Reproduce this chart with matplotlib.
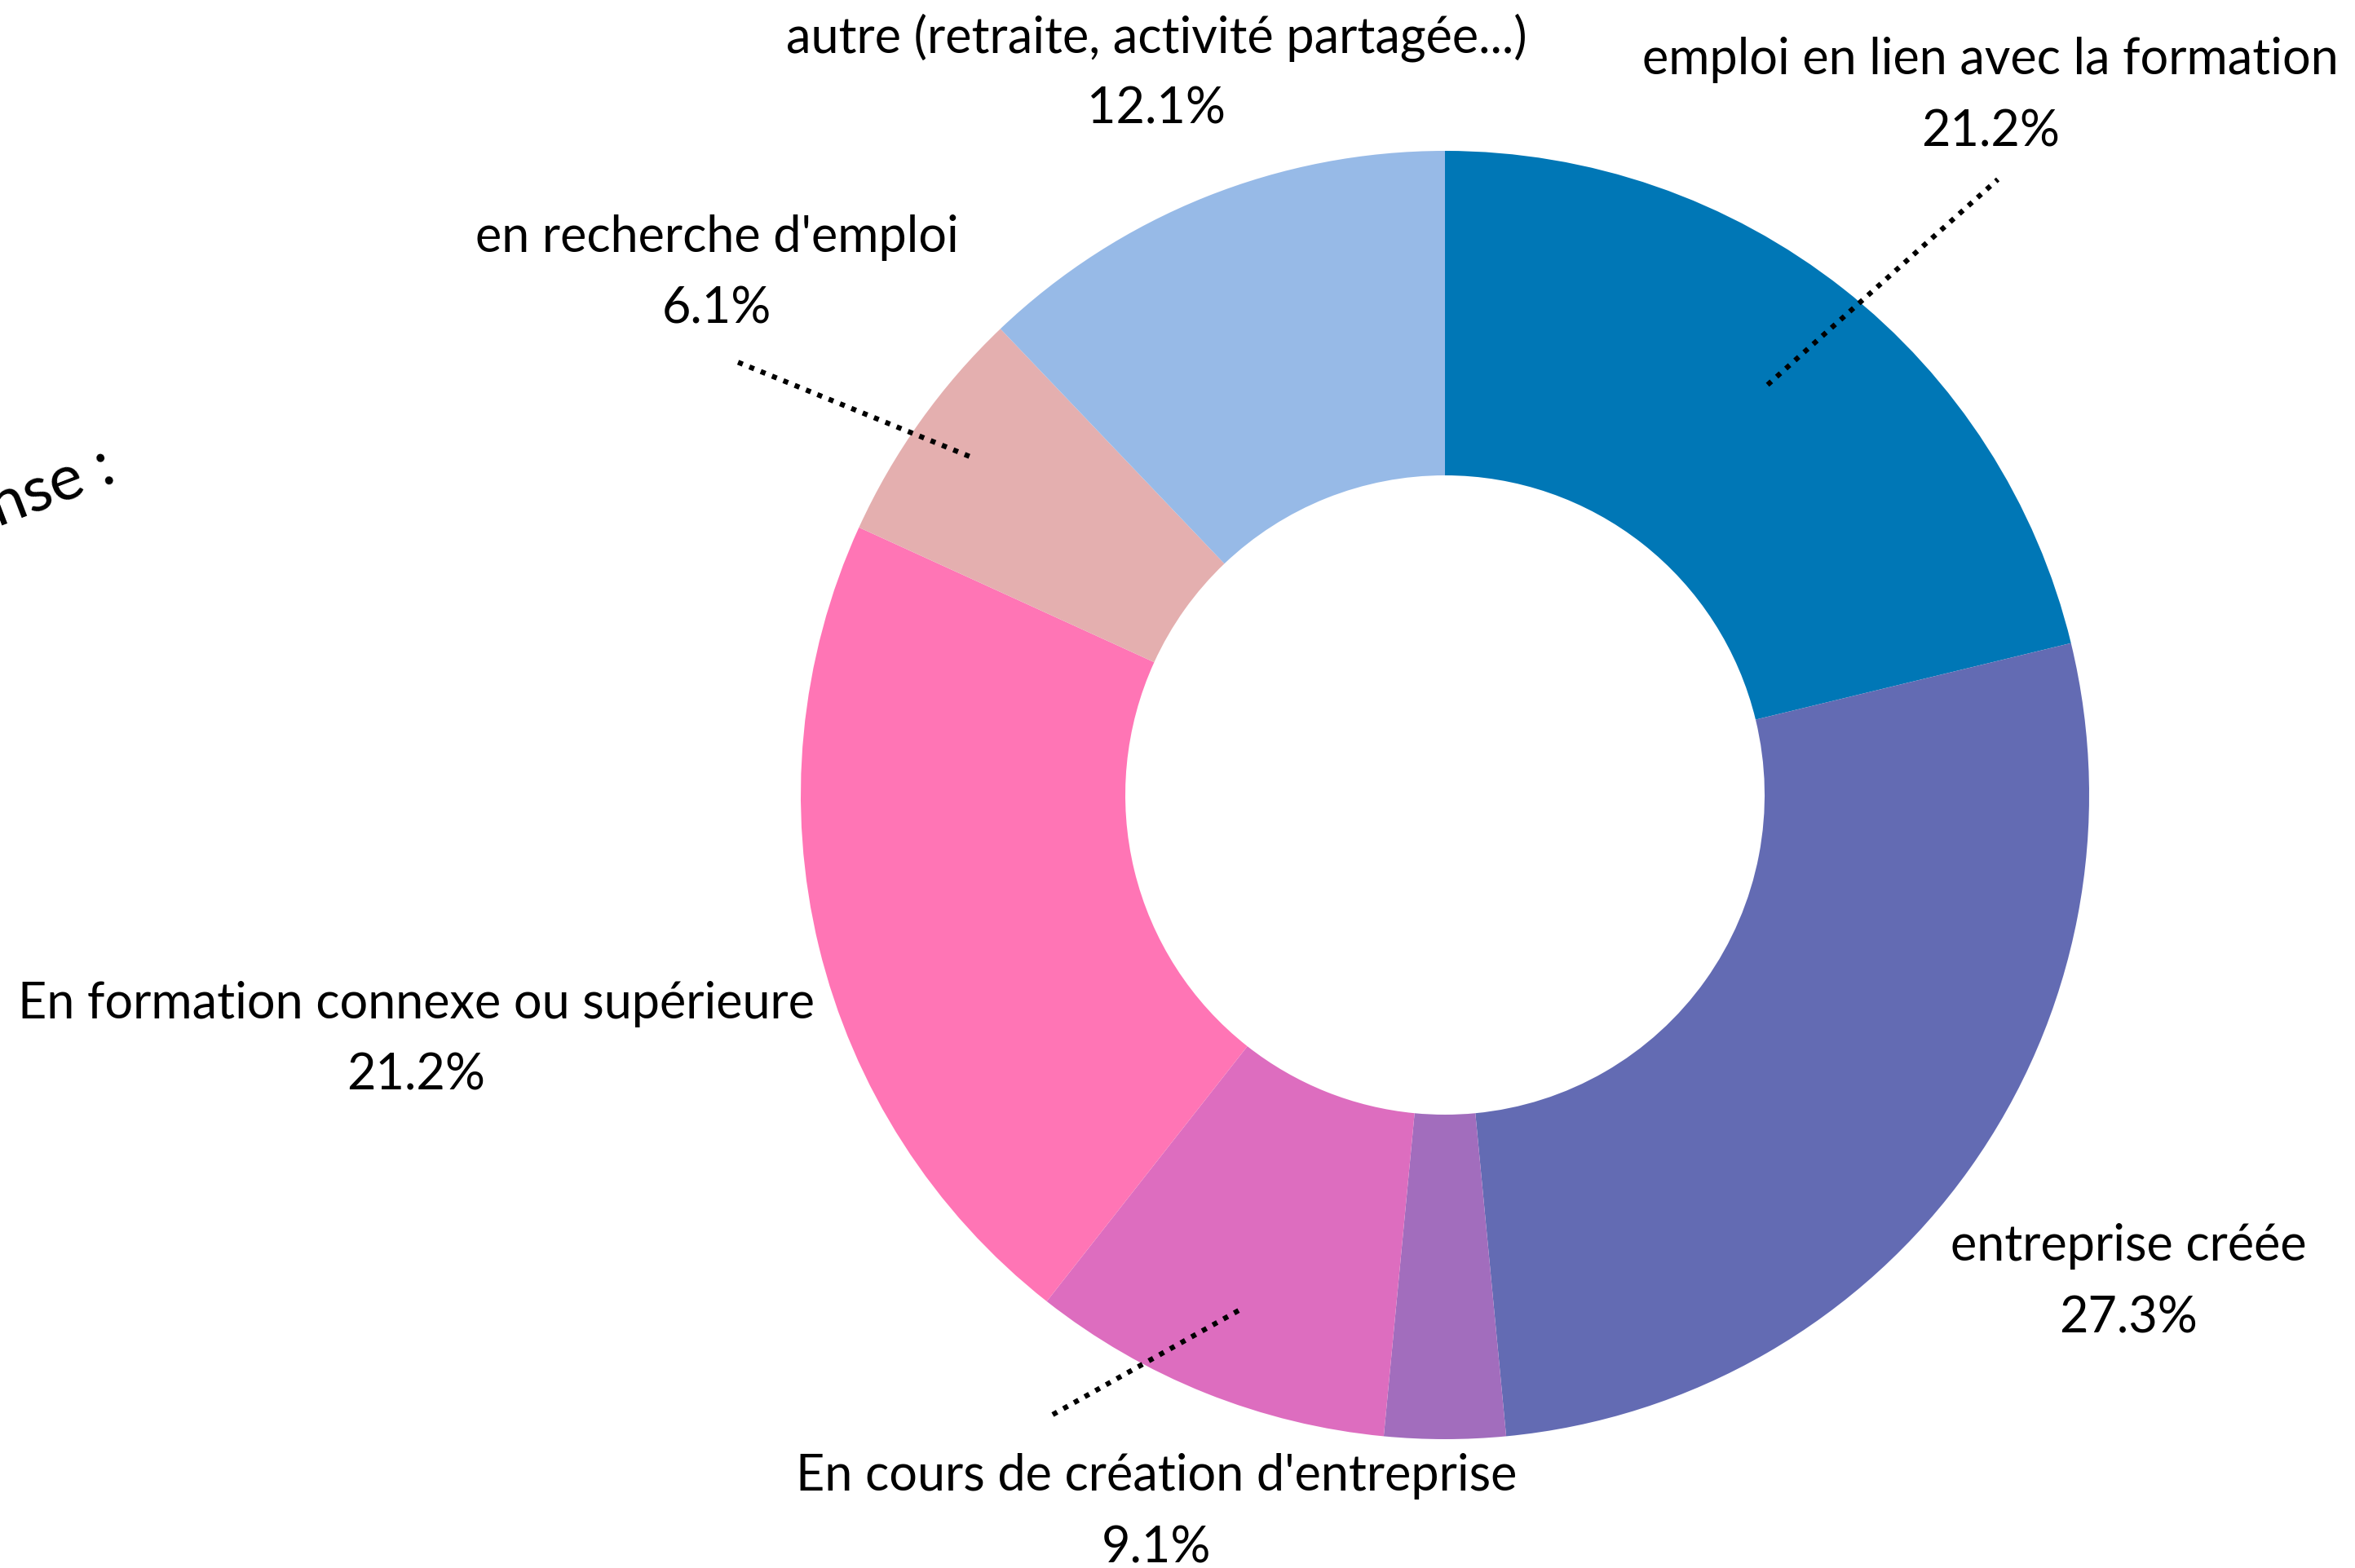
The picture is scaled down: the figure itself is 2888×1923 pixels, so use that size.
import matplotlib.pyplot as plt
import numpy as np

categories = [
    'emploi en lien avec la formation',
    'entreprise créée',
    '',
    "En cours de création d'entreprise",
    'En formation connexe ou supérieure',
    "en recherche d'emploi",
    'autre (retraite, activité partagée...)',
]
counts = [7, 9, 1, 3, 7, 2, 4]
colors = ['#0077b6', '#636bb3', '#a26dbd', '#dd6dbf', '#ff75b5', '#e4afaf', '#97bae7']

W, H = 2888, 1924
CX, CY = 1772, 976          # donut centre (pixels, from top)
R, RING = 790, 398

# label centre (pixels, from top) for each slice, None = no label
label_pos = [(2441, 74), (2610, 1529), None, (1418, 1811), (510, 1231), (879, 291), (1418, 46)]
# leader lines: slice index -> (radius of inner end, outer end in pixels)
leaders = {0: (640, (2450, 221)), 3: (681, (1289, 1737)), 5: (716, (897, 442))}

FONT = 'Lato'
FS = 44

fig = plt.figure(figsize=(W / 100, H / 100), dpi=100, facecolor='white')
ax = fig.add_axes([0, 0, 1, 1])

wedges, _ = ax.pie(counts, colors=colors, startangle=90, counterclock=False,
                   center=(CX, H - CY), radius=R, frame=True,
                   wedgeprops=dict(width=RING, linewidth=0))
ax.set_xlim(0, W)
ax.set_ylim(0, H)
ax.set_aspect('equal')
ax.axis('off')

total = sum(counts)
for i, (name, n) in enumerate(zip(categories, counts)):
    if label_pos[i] is None:
        continue
    x, y = label_pos[i]
    ax.text(x, H - y, name, ha='center', va='center', fontsize=FS, family=FONT, color='black')
    ax.text(x, H - y - 88, f'{100 * n / total:.1f}%', ha='center', va='center',
            fontsize=FS, family=FONT, color='black')

for i, (r_in, (ox, oy)) in leaders.items():
    w = wedges[i]
    ang = np.radians((w.theta1 + w.theta2) / 2)
    ix = CX + r_in * np.cos(ang)
    iy = (H - CY) + r_in * np.sin(ang)
    ax.plot([ix, ox], [iy, H - oy], color='black', linestyle=(0, (1, 1.4)), linewidth=4.5)

ax.text(145, H - 590, 'Réponse :', ha='right', va='baseline', rotation=21,
        rotation_mode='anchor', fontsize=56, family=FONT, color='black')

fig.savefig('out.png', dpi=100, facecolor='white')
